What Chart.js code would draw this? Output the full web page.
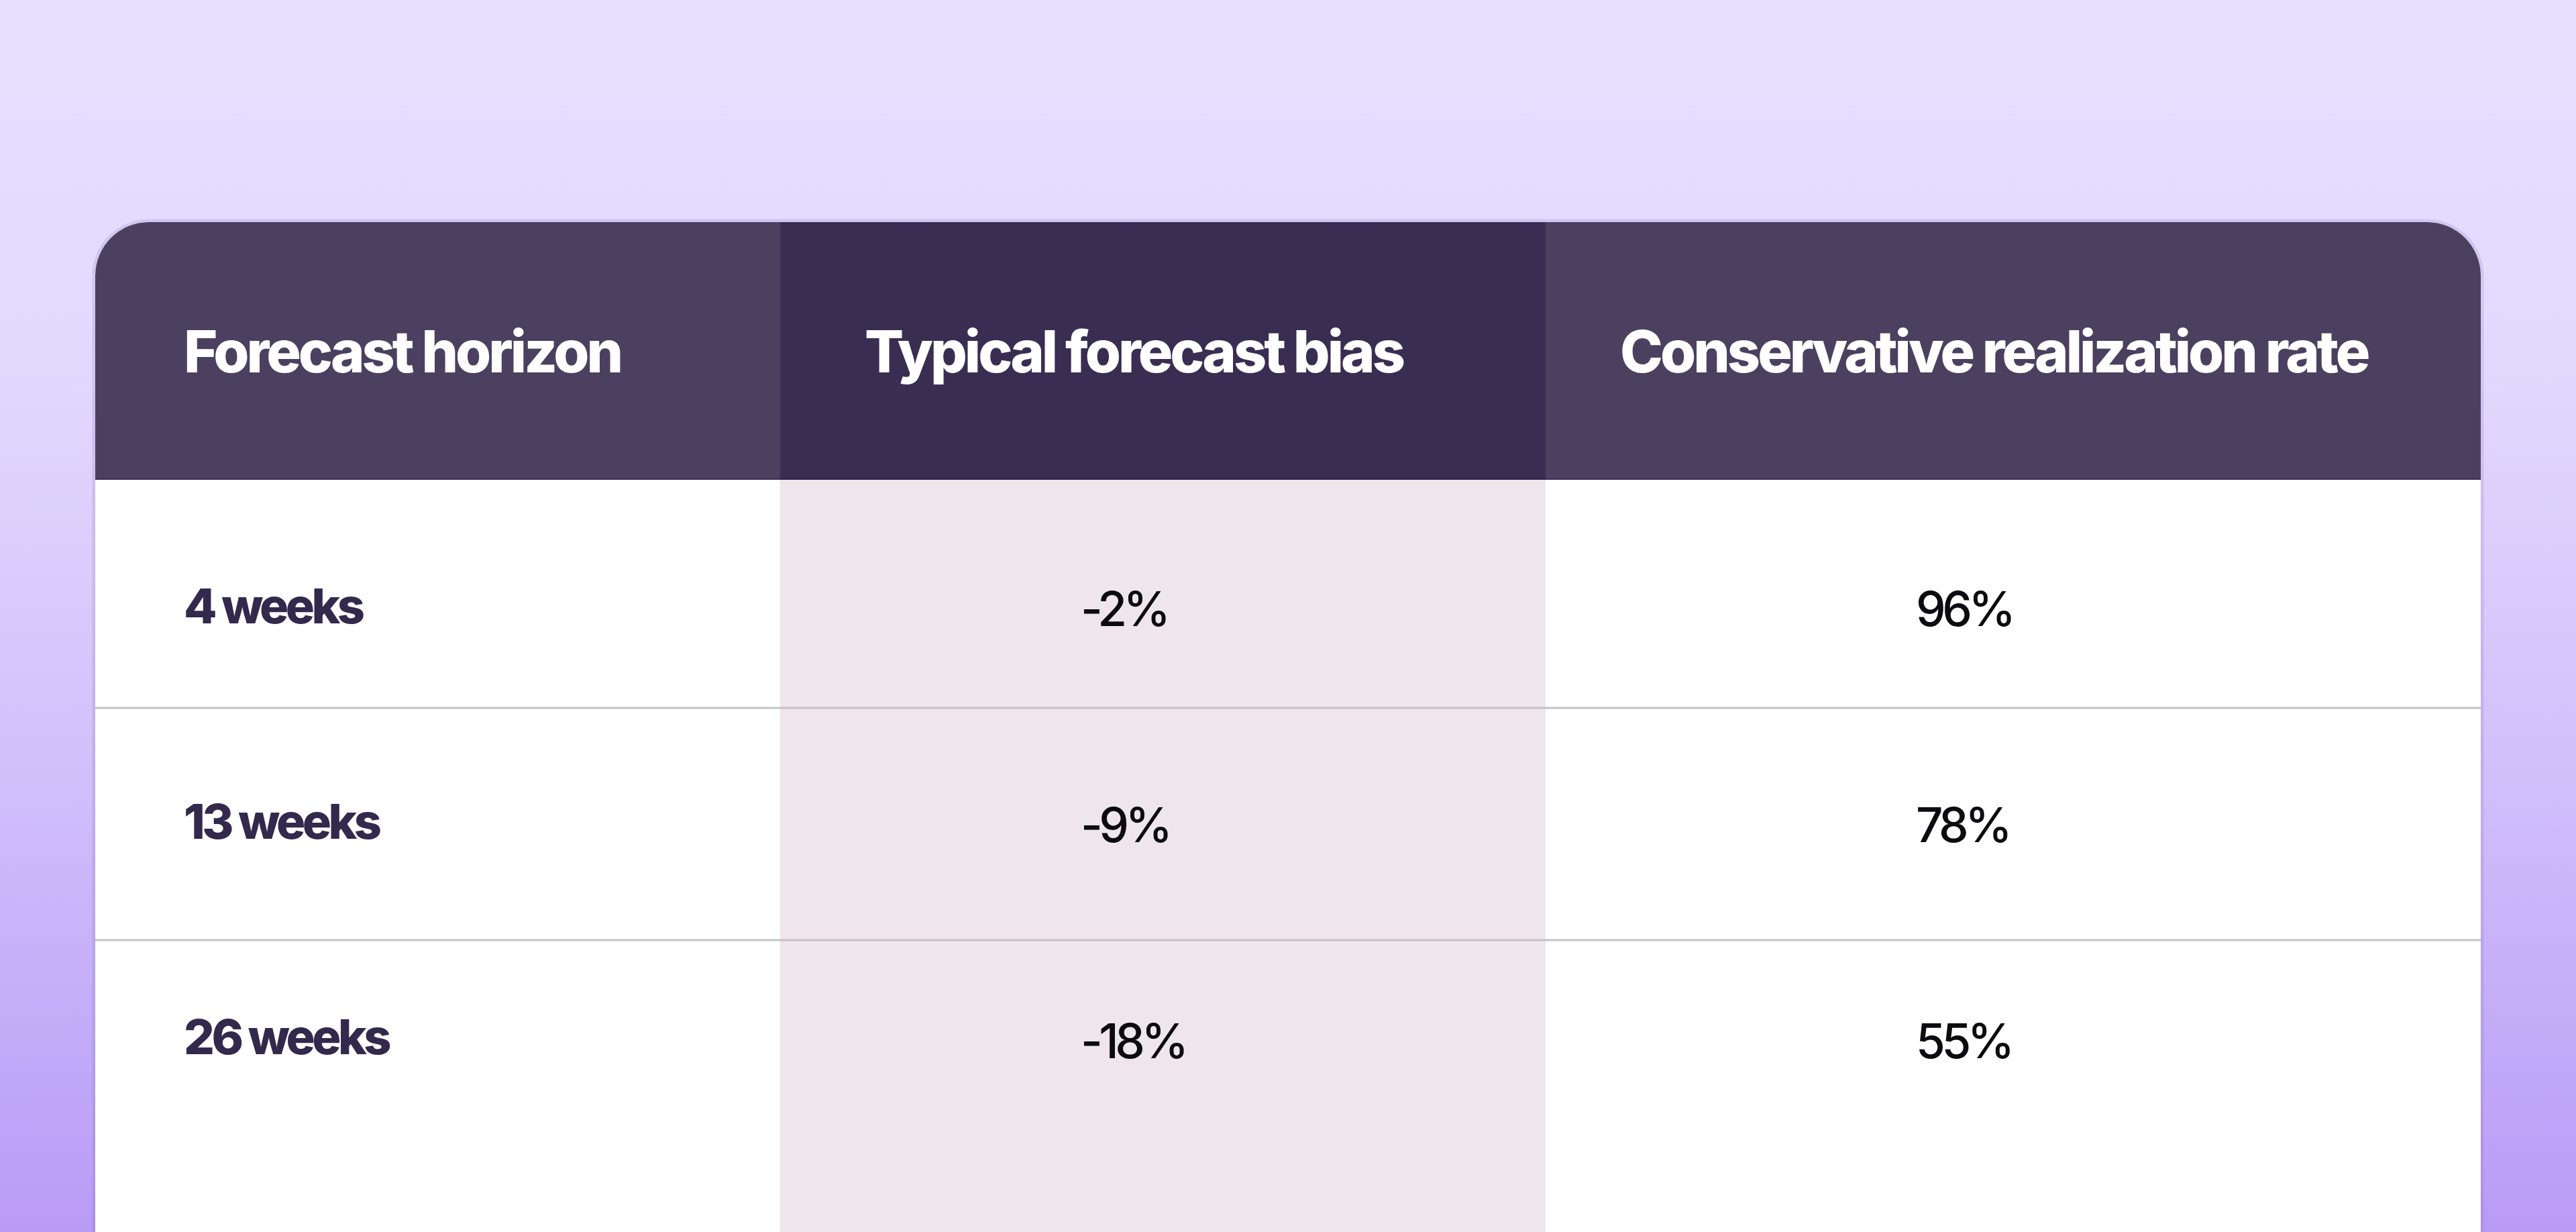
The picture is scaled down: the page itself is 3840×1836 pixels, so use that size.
<!DOCTYPE html>
<html><head><meta charset="utf-8">
<script src="https://cdn.jsdelivr.net/npm/chart.js@4.4.1/dist/chart.umd.min.js"></script>
<style>
html,body{margin:0;padding:0;width:3840px;height:1836px;overflow:hidden;background:#d8cbfb}
#wrap{position:relative;width:3840px;height:1836px}
</style></head>
<body><div id="wrap"><canvas id="c" width="3840" height="1836"></canvas></div>
<script>
// ---- data ----
const columnHeaders = ['Forecast horizon', 'Typical forecast bias', 'Conservative realization rate'];
const horizons = ['4 weeks', '13 weeks', '26 weeks'];
const forecastBias = [-2, -9, -18];          // %
const realizationRate = [96, 78, 55];        // %

// ---- layout (in scale units) ----
const COL_EDGES = [0, 1021, 2162, 3556];
const HEADER_H = 384;
const ROW_LINES = [724, 1070];
const Y_MAX = 1505;
const HEADER_TEXT_X = [132, 1147, 2273];
const HEADER_BASE = 224;
const LABEL_X = 132;
const VALUE_X = [1469, 2714];
const LABEL_BASE = [598, 919, 1240];
const VALUE_BASE = [602, 924, 1246];

const fmtPct = v => v + '%';

const tablePlugin = {
  id: 'tablePlugin',
  beforeDraw(chart) {
    const ctx = chart.ctx, W = chart.width, H = chart.height;
    const xs = chart.scales.x, ys = chart.scales.y;
    const X = v => xs.getPixelForValue(v), Y = v => ys.getPixelForValue(v);
    ctx.save();
    // page background
    const g = ctx.createLinearGradient(0, 0, 0, H);
    g.addColorStop(0, '#e6e0fe');
    g.addColorStop(0.3, '#e2d9fd');
    g.addColorStop(0.65, '#d0bdfb');
    g.addColorStop(1, '#b99bf6');
    ctx.fillStyle = g;
    ctx.fillRect(0, 0, W, H);

    const L = X(COL_EDGES[0]), R = X(COL_EDGES[3]), T = Y(0), B = H + 120;
    const rad = 80;
    const cardPath = () => {
      ctx.beginPath();
      ctx.moveTo(L, B);
      ctx.lineTo(L, T + rad);
      ctx.arcTo(L, T, L + rad, T, rad);
      ctx.lineTo(R - rad, T);
      ctx.arcTo(R, T, R, T + rad, rad);
      ctx.lineTo(R, B);
      ctx.closePath();
    };
    // border
    cardPath();
    ctx.lineWidth = 9;
    ctx.strokeStyle = 'rgba(130,100,190,0.18)';
    ctx.stroke();
    cardPath();
    ctx.save();
    ctx.clip();
    ctx.fillStyle = '#ffffff';
    ctx.fillRect(L, T, R - L, B - T);
    // body middle column
    ctx.fillStyle = '#eee6ec';
    ctx.fillRect(X(COL_EDGES[1]), Y(HEADER_H), X(COL_EDGES[2]) - X(COL_EDGES[1]), B - Y(HEADER_H));
    // header cells
    const headerFill = ['#4b4060', '#3a2d52', '#4b4060'];
    for (let c = 0; c < 3; c++) {
      ctx.fillStyle = headerFill[c];
      ctx.fillRect(X(COL_EDGES[c]), T, X(COL_EDGES[c + 1]) - X(COL_EDGES[c]), Y(HEADER_H) - T);
    }
    ctx.fillStyle = 'rgba(40,30,60,0.5)';
    ctx.fillRect(L, Y(HEADER_H) - 2, R - L, 2);
    // row separators
    ctx.fillStyle = '#c4c2c7';
    ROW_LINES.forEach(v => ctx.fillRect(L, Y(v) - 1.5, R - L, 3));
    ctx.restore();
    ctx.restore();
  },
  afterDatasetsDraw(chart) {
    const ctx = chart.ctx;
    const xs = chart.scales.x, ys = chart.scales.y;
    const X = v => xs.getPixelForValue(v), Y = v => ys.getPixelForValue(v);
    ctx.save();
    ctx.textAlign = 'left';
    ctx.textBaseline = 'alphabetic';
    // headers
    ctx.fillStyle = '#ffffff';
    ctx.font = '800 86px Inter';
    ctx.letterSpacing = '-4px';
    columnHeaders.forEach((h, i) => ctx.fillText(h, X(HEADER_TEXT_X[i]), Y(HEADER_BASE)));
    // row labels
    ctx.fillStyle = '#33294c';
    ctx.font = '800 72px Inter';
    ctx.letterSpacing = '-4.5px';
    horizons.forEach((h, r) => ctx.fillText(h, X(LABEL_X), Y(LABEL_BASE[r])));
    // values
    ctx.fillStyle = '#0b0b10';
    ctx.font = '500 71px Inter';
    ctx.letterSpacing = '-5.5px';
    forecastBias.forEach((v, r) => ctx.fillText(fmtPct(v), X(VALUE_X[0]), Y(VALUE_BASE[r])));
    realizationRate.forEach((v, r) => ctx.fillText(fmtPct(v), X(VALUE_X[1]), Y(VALUE_BASE[r])));
    ctx.restore();
  }
};

new Chart(document.getElementById('c'), {
  type: 'scatter',
  data: {
    datasets: [
      { label: columnHeaders[1], data: forecastBias.map((v, r) => ({ x: VALUE_X[0], y: VALUE_BASE[r] })), pointRadius: 0 },
      { label: columnHeaders[2], data: realizationRate.map((v, r) => ({ x: VALUE_X[1], y: VALUE_BASE[r] })), pointRadius: 0 }
    ]
  },
  options: {
    responsive: false,
    animation: false,
    devicePixelRatio: 1,
    layout: { padding: { left: 142, right: 142, top: 331, bottom: 0 } },
    plugins: { legend: { display: false }, tooltip: { enabled: false } },
    scales: {
      x: { type: 'linear', display: false, min: COL_EDGES[0], max: COL_EDGES[3] },
      y: { type: 'linear', display: false, min: 0, max: Y_MAX, reverse: true }
    }
  },
  plugins: [tablePlugin]
});
</script>
</body></html>
